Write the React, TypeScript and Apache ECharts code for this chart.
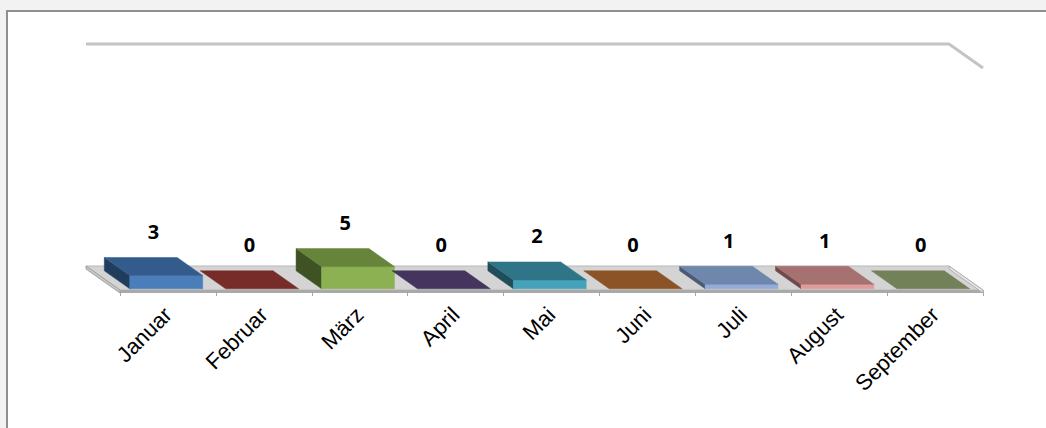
import React, { useEffect, useRef } from "react";
import * as echarts from "echarts";

const categories = ["Januar", "Februar", "März", "April", "Mai", "Juni", "Juli", "August", "September"];
const values = [3, 0, 5, 0, 2, 0, 1, 1, 0];
const axisMax = 50;

const frontColors = ["#4a7ebb", "#a84744", "#8cb152", "#6a5389", "#44a3bb", "#d9813a", "#93acd8", "#e09c9a", "#8fa36b"];
const topColors = ["#335c8c", "#772c2a", "#66843a", "#45355e", "#2f7487", "#8c5426", "#6f86ad", "#a67171", "#738158"];
const sideColors = ["#213d5e", "#4e1c1b", "#3f5224", "#2c2240", "#1f4d5a", "#5c3718", "#4a5a75", "#704a4a", "#4a5538"];

const DX = -34;
const DY = -24;
const F0 = 0.05;
const F1 = 0.8;

export default function App() {
  const ref = useRef<HTMLDivElement>(null);
  useEffect(() => {
    if (!ref.current) return;
    const chart = echarts.init(ref.current, null, { renderer: "svg" });
    const option: any = {
      animation: false,
      backgroundColor: "#f2f2f2",
      graphic: {
        elements: [
          {
            type: "rect",
            z: -100,
            shape: { x: 7, y: 11, width: 1200, height: 600 },
            style: { fill: "#ffffff", stroke: "#8f8f8f", lineWidth: 2 },
          },
        ],
      },
      grid: { left: 120, right: 63, top: 68, bottom: 138 },
      xAxis: {
        type: "category",
        data: categories,
        boundaryGap: true,
        offset: 2,
        axisLine: { show: false },
        axisTick: { show: true, interval: 0, length: 6, lineStyle: { color: "#a6a6a6", width: 1 } },
        axisLabel: {
          interval: 0,
          rotate: 45,
          margin: 19,
          fontSize: 22,
          fontFamily: "Liberation Sans",
          color: "#000000",
        },
        splitLine: { show: false },
      },
      yAxis: {
        type: "value",
        min: 0,
        max: axisMax,
        show: false,
        splitLine: { show: false },
      },
      series: [
        {
          type: "custom",
          z: 1,
          silent: true,
          data: [[0, 0]],
          encode: { x: 0, y: 1 },
          renderItem: (params: any, api: any) => {
            const cs = params.coordSys;
            const x0 = cs.x;
            const x1 = cs.x + cs.width;
            const yTop = cs.y;
            const yBase = cs.y + cs.height;
            return {
              type: "group",
              children: [
                {
                  type: "polyline",
                  shape: {
                    points: [
                      [x0 + DX, yTop + DY],
                      [x1 + DX, yTop + DY],
                      [x1, yTop],
                    ],
                  },
                  style: { stroke: "#c4c4c4", lineWidth: 3, fill: "none" },
                },
                {
                  type: "polygon",
                  shape: {
                    points: [
                      [x0, yBase],
                      [x1, yBase],
                      [x1 + DX, yBase + DY],
                      [x0 + DX, yBase + DY],
                    ],
                  },
                  style: { fill: "#d4d4d4", stroke: "#b8b8b8", lineWidth: 1 },
                },
                {
                  type: "polygon",
                  shape: {
                    points: [
                      [x0, yBase],
                      [x1, yBase],
                      [x1, yBase + 3],
                      [x0, yBase + 3],
                    ],
                  },
                  style: { fill: "#a9a9a9" },
                },
                {
                  type: "polygon",
                  shape: {
                    points: [
                      [x1, yBase],
                      [x1 + DX, yBase + DY],
                      [x1 + DX, yBase + DY + 3],
                      [x1, yBase + 3],
                    ],
                  },
                  style: { fill: "#e6e6e6", stroke: "#b0b0b0", lineWidth: 1 },
                },
                {
                  type: "polygon",
                  shape: {
                    points: [
                      [x0, yBase],
                      [x0 + DX, yBase + DY],
                      [x0 + DX, yBase + DY + 3],
                      [x0, yBase + 3],
                    ],
                  },
                  style: { fill: "#c8c8c8", stroke: "#a0a0a0", lineWidth: 1 },
                },
              ],
            };
          },
        },
        {
          type: "custom",
          z: 3,
          data: values.map((v, i) => [i, v]),
          encode: { x: 0, y: 1 },
          renderItem: (params: any, api: any) => {
            const i = api.value(0);
            const v = api.value(1);
            const base = api.coord([i, 0]);
            const top = api.coord([i, v]);
            const band = api.size([1, 0])[0];
            const hw = band * 0.38;
            const ox0 = F0 * DX;
            const oy0 = F0 * DY;
            const ox1 = F1 * DX;
            const oy1 = F1 * DY;
            const xl = base[0] - hw;
            const xr = base[0] + hw;
            const yb = base[1];
            const yt = top[1];
            const k = params.dataIndex;
            const children: any[] = [];
            if (v > 0) {
              children.push({
                type: "polygon",
                shape: {
                  points: [
                    [xl + ox0, yb + oy0],
                    [xl + ox1, yb + oy1],
                    [xl + ox1, yt + oy1],
                    [xl + ox0, yt + oy0],
                  ],
                },
                style: { fill: sideColors[k], stroke: sideColors[k], lineWidth: 0.5 },
              });
              children.push({
                type: "polygon",
                shape: {
                  points: [
                    [xl + ox0, yt + oy0],
                    [xr + ox0, yt + oy0],
                    [xr + ox0, yb + oy0],
                    [xl + ox0, yb + oy0],
                  ],
                },
                style: { fill: frontColors[k], stroke: frontColors[k], lineWidth: 0.5 },
              });
            }
            children.push({
              type: "polygon",
              shape: {
                points: [
                  [xl + ox0, yt + oy0],
                  [xr + ox0, yt + oy0],
                  [xr + ox1, yt + oy1],
                  [xl + ox1, yt + oy1],
                ],
              },
              style: { fill: topColors[k], stroke: topColors[k], lineWidth: 0.5 },
            });
            children.push({
              type: "text",
              z2: 10,
              style: {
                x: base[0] + (ox0 + ox1) / 2,
                y: yt + oy1 - 26,
                text: String(v),
                fill: "#000000",
                font: "bold 20px 'Noto Sans'",
                align: "center",
                verticalAlign: "middle",
              },
            });
            return { type: "group", children };
          },
        },
      ],
    };
    chart.setOption(option);
    return () => chart.dispose();
  }, []);
  return (
    <div
      ref={ref}
      style={{ position: "fixed", left: 0, top: 0, width: 1046, height: 428 }}
    />
  );
}
